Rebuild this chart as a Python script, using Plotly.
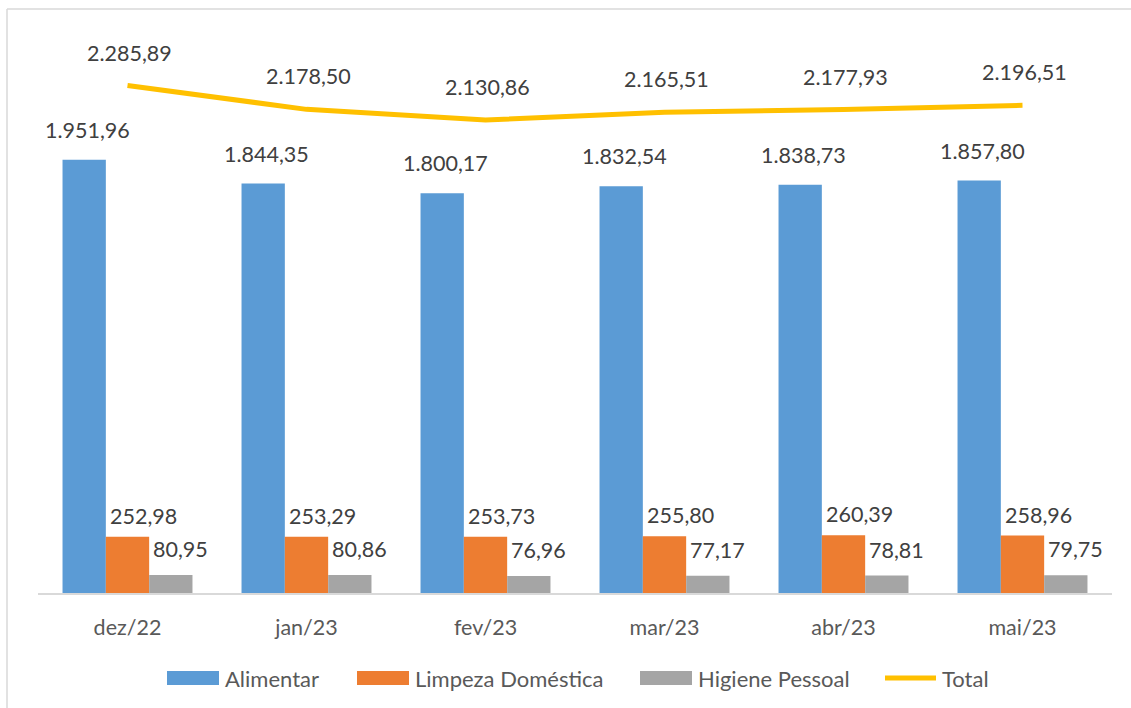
import plotly.graph_objects as go

categories = ["dez/22", "jan/23", "fev/23", "mar/23", "abr/23", "mai/23"]
alimentar = [1951.96, 1844.35, 1800.17, 1832.54, 1838.73, 1857.80]
limpeza = [252.98, 253.29, 253.73, 255.80, 260.39, 258.96]
higiene = [80.95, 80.86, 76.96, 77.17, 78.81, 79.75]
total = [2285.89, 2178.50, 2130.86, 2165.51, 2177.93, 2196.51]

names = ["Alimentar", "Limpeza Doméstica", "Higiene Pessoal", "Total"]
colors = ["#5B9BD5", "#ED7D31", "#A5A5A5", "#FFC000"]

FONT = "Lato, 'Open Sans', sans-serif"
LABEL_COLOR = "#404040"
TEXT_COLOR = "#595959"

W, H = 1131, 708
ML, MR, MT, MB = 38, 19, 38, 115
PW, PH = W - ML - MR, H - MT - MB


def px(x):
    return (x - ML) / PW


def py(y):
    return (H - MB - y) / PH


def br(v):
    s = f"{v:,.2f}"
    return s.replace(",", "X").replace(".", ",").replace("X", ".")


x_idx = list(range(len(categories)))
BARGAP = 0.274
bw = (1 - BARGAP) / 3

fig = go.Figure()
series = [alimentar, limpeza, higiene]
for k, vals in enumerate(series):
    fig.add_trace(go.Bar(
        x=x_idx, y=vals, name=names[k], marker_color=colors[k],
        marker_line_width=0, showlegend=False,
    ))
fig.add_trace(go.Scatter(
    x=x_idx, y=total, mode="lines", name=names[3],
    line=dict(color=colors[3], width=5), showlegend=False,
))

annotations = []
offsets = [(-bw, 3, 30), (0, 16, 21), (bw, 10, 26)]
for k, vals in enumerate(series):
    dx, xs, ys = offsets[k]
    for i, v in enumerate(vals):
        annotations.append(dict(
            x=i + dx, y=v, text=br(v), showarrow=False,
            xshift=xs, yshift=ys, yanchor="middle", xanchor="center",
            font=dict(family=FONT, size=21.5, color=LABEL_COLOR),
        ))
for i, v in enumerate(total):
    annotations.append(dict(
        x=i, y=v, text=br(v), showarrow=False,
        xshift=2, yshift=33, yanchor="middle", xanchor="center",
        font=dict(family=FONT, size=21.5, color=LABEL_COLOR),
    ))

# manual legend (layout only)
shapes = []
swatches = [(167, 219), (357, 409), (640, 692), (883, 938)]
text_x = [223, 413, 696, 940]
LEG_Y = 678
for k in range(4):
    x0, x1 = swatches[k]
    if k < 3:
        shapes.append(dict(type="rect", xref="paper", yref="paper",
                           x0=px(x0), x1=px(x1), y0=py(685), y1=py(671),
                           fillcolor=colors[k], line_width=0))
    else:
        shapes.append(dict(type="line", xref="paper", yref="paper",
                           x0=px(x0 + 2), x1=px(x1 - 2), y0=py(LEG_Y), y1=py(LEG_Y),
                           line=dict(color=colors[k], width=5)))
    annotations.append(dict(
        xref="paper", yref="paper", x=px(text_x[k]), y=py(LEG_Y),
        text=names[k], showarrow=False, xanchor="left", yanchor="middle",
        font=dict(family=FONT, size=22, color=TEXT_COLOR),
    ))

# outer frame (top and left edges visible)
shapes.append(dict(type="line", xref="paper", yref="paper", x0=px(7), x1=px(7),
                   y0=py(9), y1=py(720), line=dict(color="#D9D9D9", width=1.5)))
shapes.append(dict(type="line", xref="paper", yref="paper", x0=px(7), x1=px(1140),
                   y0=py(9), y1=py(9), line=dict(color="#D9D9D9", width=1.5)))

fig.update_layout(
    width=W, height=H,
    margin=dict(l=ML, r=MR, t=MT, b=MB),
    paper_bgcolor="white", plot_bgcolor="white",
    barmode="group", bargap=BARGAP, bargroupgap=0,
    font=dict(family=FONT, size=21.5, color=TEXT_COLOR),
    showlegend=False,
    xaxis=dict(
        tickmode="array", tickvals=x_idx, ticktext=categories,
        range=[-0.5, len(categories) - 0.5],
        showline=True, linecolor="#D9D9D9", linewidth=1.5,
        showgrid=False, zeroline=False, ticks="",
        tickfont=dict(family=FONT, size=21.5, color=TEXT_COLOR),
        ticklabelstandoff=14,
    ),
    yaxis=dict(range=[0, 2500], visible=False, showgrid=False, zeroline=False),
    annotations=annotations,
    shapes=shapes,
)

fig.write_html("out.html", post_script="document.body.style.margin='0';",
               config={"displayModeBar": False})
